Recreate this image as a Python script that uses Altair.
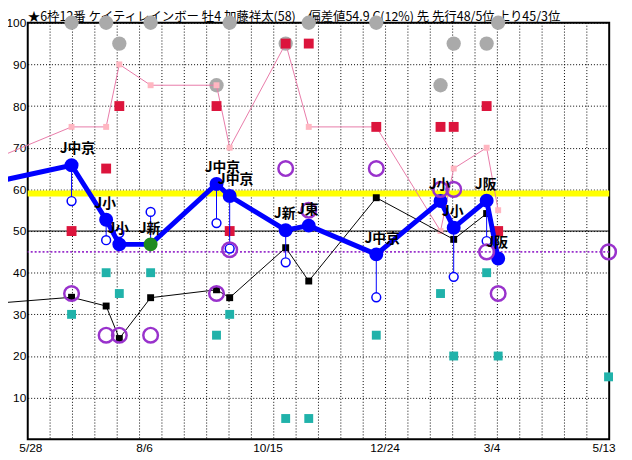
import altair as alt
import pandas as pd

# ---------------- data ----------------
title_text = "★6枠12番 ケイティレインボー 牡4 加藤祥太(58)　偏差値54.9 C(12%) 先 先行48/5位 上り45/3位"

# days after 5/28 for each past race
race_day = [26, 47, 55, 74, 114, 122, 156, 170, 211, 250, 258, 278, 285]
venue = ["J中京", "J小", "J小", "J新", "J中京", "J中京", "J新", "J東", "J中京", "J小", "J小", "J阪", "J阪"]
won = [False, False, False, True, False, False, False, False, False, False, False, False, False]
score = [65.8, 52.7, 46.8, 46.8, 61.3, 58.4, 50.2, 51.3, 44.4, 57.2, 50.8, 57.3, 43.4]
score_sub = [57.2, 47.8, 49.5, 54.6, 51.9, 45.8, 42.5, None, 34.1, None, 39.0, 47.6, None]
pace = [34.1, 32.0, 24.2, 34.0, 35.9, 34.0, 46.0, 38.0, 58.0, None, 48.0, 54.2, None]
pink = [75, 75, 90, 85, 85, 70, 95, 75, 75, 50, 65, 70, 55]
red = [50, 65, 80, None, 80, 50, 95, 95, 75, 75, 75, 80, 50]
grey = [100, 100, 95, 100, 85, 100, 95, 100, 100, 85, 95, 95, 100]
purple = [35, 25, 25, 25, 35, 45.5, 65, 55, 65, 60, 60, 45, 35]
cyan = [30, 40, 35, 40, 25, 30, 5, 5, 25, 35, 20, 40, 20]

# race before the visible window (lines enter from the left)
prev_day = -41
prev_score = 60
prev_pace = 32
prev_pink = 64

# upcoming race at the right edge
next_day = [352]
next_purple = [45]
next_cyan = [15]

# reference lines
line_50 = [50]
line_purple = [45]
line_yellow = [59]

tick_days = [1, 70, 145, 216, 281, 349]
tick_labels = ["5/28", "8/6", "10/15", "12/24", "3/4", "5/13"]
y_ticks = [10, 20, 30, 40, 50, 60, 70, 80, 90, 100]

# ---------------- tables ----------------
races = pd.DataFrame({
    "day": race_day, "venue": venue, "won": won, "score": score,
    "score_sub": score_sub, "pace": pace, "pink": pink, "red": red,
    "grey": grey, "purple": purple, "cyan": cyan,
})
score_line = pd.DataFrame({"day": [prev_day] + race_day, "v": [prev_score] + score})
pace_df = pd.DataFrame({"day": [prev_day] + race_day, "v": [prev_pace] + pace}).dropna()
pink_line = pd.DataFrame({"day": [prev_day] + race_day, "v": [prev_pink] + pink})
nxt = pd.DataFrame({"day": next_day, "purple": next_purple, "cyan": next_cyan})

d0, d1 = -0.6, 352.4
grid_df = pd.DataFrame({"gx": [d0 + k * (d1 - d0) / 26 for k in range(1, 26)]})

xs = alt.Scale(domain=[d0, d1], nice=False, zero=False)
ys = alt.Scale(domain=[0, 100], nice=False, zero=False)

label_expr = ("[" + ",".join("'%s'" % t for t in tick_labels) + "][indexof(["
              + ",".join(str(v) for v in tick_days) + "], datum.value)]")

xaxis = alt.Axis(values=tick_days, labelExpr=label_expr, ticks=False, grid=False,
                 domain=False, labelPadding=3, labelFont="Liberation Sans",
                 labelFontSize=12, labelColor="black", title=None,
                 labelOverlap=False, labelFlush=False)
yaxis = alt.Axis(values=y_ticks, grid=True, gridDash=[1, 2], gridColor="black",
                 gridOpacity=1, gridWidth=1, ticks=False, domain=False,
                 labelPadding=2, labelFont="Liberation Sans", labelFontSize=12,
                 labelColor="black", title=None)


def X(f):
    return alt.X(f, type="quantitative", scale=xs, axis=xaxis)


def Y(f):
    return alt.Y(f, type="quantitative", scale=ys, axis=yaxis)


title_layer = alt.Chart(pd.DataFrame({"t": [title_text]})).mark_text(
    align="left", baseline="alphabetic", font="Noto Sans CJK JP", fontSize=12.6,
    color="black").encode(x=alt.value(0), y=alt.value(-2), text="t:N")

vgrid = alt.Chart(grid_df).mark_rule(color="black", strokeDash=[1, 2],
                                     strokeWidth=1).encode(x=X("gx"))

r50 = alt.Chart(pd.DataFrame({"v": line_50})).mark_rule(
    color="black", strokeWidth=1).encode(y=Y("v"))
rpur = alt.Chart(pd.DataFrame({"v": line_purple})).mark_rule(
    color="#9932cc", strokeWidth=2, strokeDash=[2, 2]).encode(y=Y("v"))
ryel = alt.Chart(pd.DataFrame({"v": line_yellow})).mark_rule(
    color="#ffff00", strokeWidth=6).encode(y=Y("v"))

grey_pts = alt.Chart(races).mark_circle(size=210, color="#aaaaaa", opacity=1).encode(
    x=X("day"), y=Y("grey"))

pink_ln = alt.Chart(pink_line).mark_line(color="#e87aa8", strokeWidth=1).encode(
    x=X("day"), y=Y("v"))
pink_pts = alt.Chart(races).mark_square(size=36, color="#ffb6c1", opacity=1).encode(
    x=X("day"), y=Y("pink"))

pace_ln = alt.Chart(pace_df).mark_line(color="black", strokeWidth=1).encode(
    x=X("day"), y=Y("v"))
pace_pts = alt.Chart(races).mark_square(size=49, color="black", opacity=1).encode(
    x=X("day"), y=Y("pace"))

cyan_pts = alt.Chart(races).mark_square(size=81, color="#20b2aa", opacity=1).encode(
    x=X("day"), y=Y("cyan"))
cyan_next = alt.Chart(nxt).mark_square(size=81, color="#20b2aa", opacity=1).encode(
    x=X("day"), y=Y("cyan"))

red_pts = alt.Chart(races).mark_square(size=100, color="#dc143c", opacity=1).encode(
    x=X("day"), y=Y("red"))

stems = alt.Chart(races).mark_rule(color="#0000ff", strokeWidth=1).encode(
    x=X("day"), y=Y("score"), y2="score_sub:Q")
sub_pts = alt.Chart(races).mark_point(shape="circle", size=80, filled=True,
                                      fill="white", stroke="#0000ff", strokeWidth=1.5,
                                      opacity=1).encode(x=X("day"), y=Y("score_sub"))

score_ln = alt.Chart(score_line).mark_line(color="#0000ff", strokeWidth=5).encode(
    x=X("day"), y=Y("v"))
score_pts = alt.Chart(races).mark_circle(size=200, opacity=1).encode(
    x=X("day"), y=Y("score"),
    color=alt.condition("datum.won", alt.value("#1f8a1f"), alt.value("#0000ff")))

pur_pts = alt.Chart(races).mark_point(shape="circle", size=220, filled=False,
                                      color="#9932cc", strokeWidth=2.5, opacity=1).encode(
    x=X("day"), y=Y("purple"))
pur_next = alt.Chart(nxt).mark_point(shape="circle", size=220, filled=False,
                                     color="#9932cc", strokeWidth=2.5, opacity=1).encode(
    x=X("day"), y=Y("purple"))

labels = alt.Chart(races).mark_text(align="left", baseline="alphabetic", dx=-12, dy=-12,
                                    font="Noto Sans CJK JP", fontSize=14,
                                    fontWeight="bold", color="black").encode(
    x=X("day"), y=Y("score"), text="venue:N")

chart = alt.layer(
    vgrid, r50, rpur, ryel, title_layer, grey_pts, pink_ln, pink_pts,
    pace_ln, pace_pts, cyan_pts, cyan_next, red_pts, stems, sub_pts,
    score_ln, score_pts, pur_pts, pur_next, labels,
).properties(
    width=589, height=422,
    autosize=alt.AutoSizeParams(type="none"),
    padding={"left": 20, "top": 12, "right": 15, "bottom": 18},
    background="white",
).configure_view(stroke="black", strokeWidth=2)

chart.save("out.html", embed_options={"renderer": "svg", "actions": False})
